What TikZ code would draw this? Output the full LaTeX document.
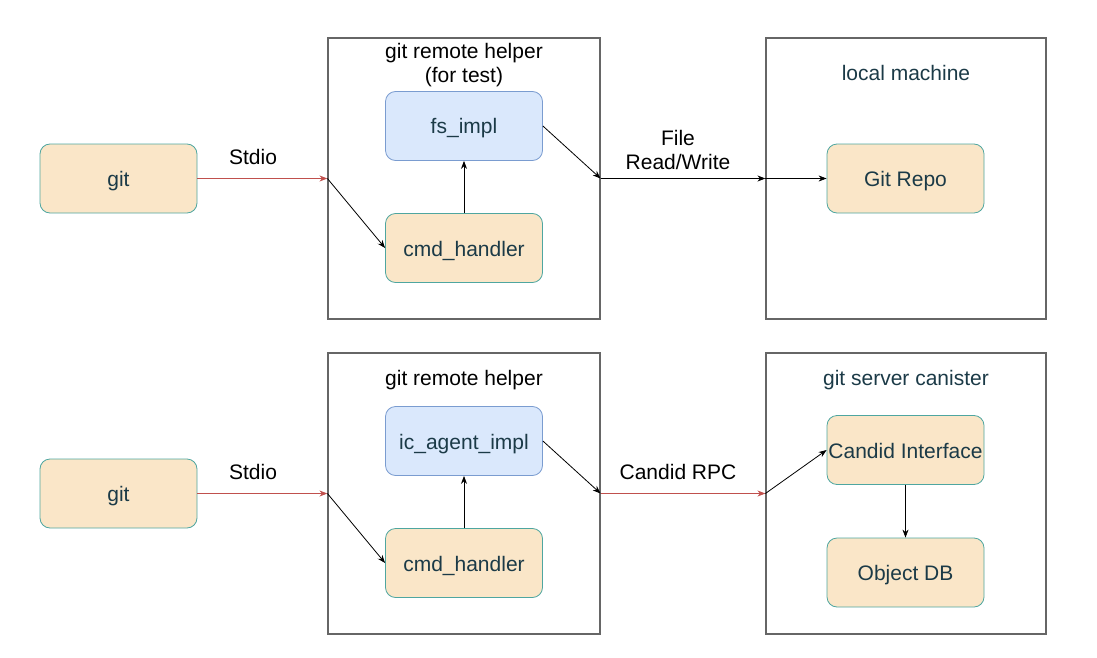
\documentclass[tikz,border=0pt]{standalone}
\usepackage{fontspec}
\setmainfont{Liberation Sans}
\usetikzlibrary{arrows.meta}
\definecolor{nodefill}{HTML}{FAE6C8}
\definecolor{nodedraw}{HTML}{4EA6A0}
\definecolor{nodetext}{HTML}{1B3A47}
\definecolor{bluefill}{HTML}{DAE8FC}
\definecolor{bluedraw}{HTML}{7A9CD0}
\definecolor{boxdraw}{HTML}{666666}
\definecolor{redline}{HTML}{C0504D}
\tikzset{
 orangebox/.style={draw=nodedraw, fill=nodefill, rounded corners=10pt, minimum width=157pt, minimum height=69pt, text=nodetext, font=\fontsize{21}{25}\selectfont, line width=0.8pt, inner sep=0pt, text height=16pt, text depth=0pt},
 bluebox/.style={orangebox, draw=bluedraw, fill=bluefill},
 container/.style={draw=boxdraw, line width=1.2pt, minimum width=272pt, minimum height=281pt, inner sep=0pt},
 widecontainer/.style={container, minimum width=280pt},
 lbl/.style={font=\fontsize{21}{24.5}\selectfont, align=center, inner sep=0pt},
 arr/.style={-{Stealth[length=8pt,width=6pt]}, line width=0.8pt},
 redarr/.style={arr, draw=redline},
}
\begin{document}
\begin{tikzpicture}[x=1pt,y=-1pt]
\useasboundingbox (0,0) rectangle (1097,658);
% ---------- top row ----------
\node[container] (helperA) at (464,178.5) {};
\node[widecontainer] (localbox) at (906,178.5) {};
\node[orangebox] (gitA) at (118.5,178.5) {git};
\node[bluebox] (fs) at (464,126) {fs\_impl};
\node[orangebox] (cmdA) at (464,248) {cmd\_handler};
\node[orangebox] (repo) at (905.5,178.5) {Git Repo};
\node[lbl] (titleA) at (464,65) {git remote helper\\(for test)};
\node[lbl, text=nodetext] (titleLocal) at (906,73) {local machine};
\node[lbl] (stdioA) at (253,157) {Stdio};
\node[lbl] (fileRW) at (678,150) {File\\Read/Write};
\coordinate (inA) at (helperA.west |- gitA.east);
\coordinate (outA) at (helperA.east |- gitA.east);
\coordinate (enterLocal) at (localbox.west |- gitA.east);
\draw[redarr] (gitA.east) -- (inA);
\draw[arr] (inA) -- (cmdA.west);
\draw[arr] (cmdA.north) -- (fs.south);
\draw[arr] (fs.east) -- (outA);
\draw[arr] (outA) -- (enterLocal);
\draw[arr] (enterLocal) -- (repo.west);
% ---------- bottom row ----------
\node[container] (helperB) at (464,493.5) {};
\node[widecontainer] (serverbox) at (906,493.5) {};
\node[orangebox] (gitB) at (118.5,493.5) {git};
\node[bluebox] (ica) at (464,441) {ic\_agent\_impl};
\node[orangebox] (cmdB) at (464,563) {cmd\_handler};
\node[orangebox] (candid) at (905.5,450) {Candid Interface};
\node[orangebox] (objdb) at (905.5,572.5) {Object DB};
\node[lbl] (titleB) at (464,380) {git remote helper};
\node[lbl, text=nodetext] (titleServer) at (906,380) {git server canister};
\node[lbl] (stdioB) at (253,472) {Stdio};
\node[lbl] (rpc) at (678,472) {Candid RPC};
\coordinate (inB) at (helperB.west |- gitB.east);
\coordinate (outB) at (helperB.east |- gitB.east);
\coordinate (enterServer) at (serverbox.west |- gitB.east);
\draw[redarr] (gitB.east) -- (inB);
\draw[arr] (inB) -- (cmdB.west);
\draw[arr] (cmdB.north) -- (ica.south);
\draw[arr] (ica.east) -- (outB);
\draw[redarr] (outB) -- (enterServer);
\draw[arr] (enterServer) -- (candid.west);
\draw[arr] (candid.south) -- (objdb.north);
\end{tikzpicture}
\end{document}
